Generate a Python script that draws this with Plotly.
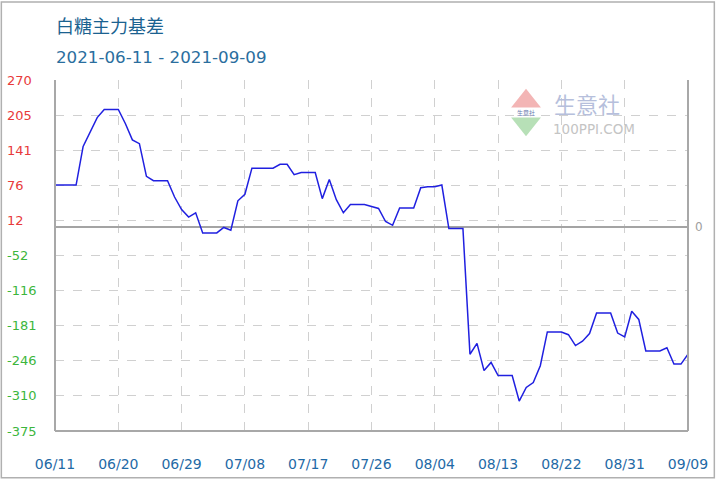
import plotly.graph_objects as go

# ---------------- data ----------------
dates = ["2021-06-11", "2021-06-14", "2021-06-15", "2021-06-16", "2021-06-17", "2021-06-18",
         "2021-06-20", "2021-06-21", "2021-06-22", "2021-06-23", "2021-06-24", "2021-06-25",
         "2021-06-27", "2021-06-28", "2021-06-29", "2021-06-30", "2021-07-01", "2021-07-02",
         "2021-07-04", "2021-07-05", "2021-07-06", "2021-07-07", "2021-07-08", "2021-07-09",
         "2021-07-12", "2021-07-13", "2021-07-14", "2021-07-15", "2021-07-16",
         "2021-07-18", "2021-07-19", "2021-07-20", "2021-07-21", "2021-07-22", "2021-07-23",
         "2021-07-25", "2021-07-26", "2021-07-27", "2021-07-28", "2021-07-29", "2021-07-30",
         "2021-08-01", "2021-08-02", "2021-08-03", "2021-08-04", "2021-08-05", "2021-08-06",
         "2021-08-08", "2021-08-09", "2021-08-10", "2021-08-11", "2021-08-12", "2021-08-13",
         "2021-08-15", "2021-08-16", "2021-08-17", "2021-08-18", "2021-08-19", "2021-08-20",
         "2021-08-22", "2021-08-23", "2021-08-24", "2021-08-25", "2021-08-26", "2021-08-27",
         "2021-08-29", "2021-08-30", "2021-08-31", "2021-09-01", "2021-09-02", "2021-09-03",
         "2021-09-05", "2021-09-06", "2021-09-07", "2021-09-08", "2021-09-09"]
basis = [77, 77, 148, 176, 201, 216,
         216, 190, 160, 153, 93, 85,
         85, 55, 32, 18, 26, -11,
         -11, -1, -6, 48, 60, 108,
         108, 115, 115, 96, 100,
         100, 52, 87, 50, 26, 41,
         41, 37, 34, 10, 3, 35,
         35, 72, 74, 74, 77, -3,
         -3, -234, -214, -264, -249, -273,
         -273, -320, -295, -286, -255, -193,
         -193, -198, -218, -210, -196, -158,
         -158, -195, -202, -155, -170, -228,
         -228, -222, -252, -252, -234]

x_tick_vals = ["2021-06-11", "2021-06-20", "2021-06-29", "2021-07-08", "2021-07-17", "2021-07-26",
               "2021-08-04", "2021-08-13", "2021-08-22", "2021-08-31", "2021-09-09"]
x_tick_text = ["06/11", "06/20", "06/29", "07/08", "07/17", "07/26",
               "08/04", "08/13", "08/22", "08/31", "09/09"]
y_tick_vals = [270, 205.5, 141, 76.5, 12, -52.5, -117, -181.5, -246, -310.5, -375]
y_tick_text = ["270", "205", "141", "76", "12", "-52", "-116", "-181", "-246", "-310", "-375"]

title_text = "白糖主力基差"
subtitle_text = "2021-06-11 - 2021-09-09"

# ---------------- layout geometry ----------------
W, H = 720, 484
L, R, T, B = 55, 28, 80, 48
PW, PH = W - L - R, H - T - B


def px(x):
    return (x - L) / PW


def py(y):
    return 1 - (y - T) / PH


FONT = "DejaVu Sans"

fig = go.Figure()
fig.add_trace(go.Scatter(
    x=dates, y=basis, mode="lines",
    line=dict(color="#2020e0", width=1.5),
    hoverinfo="x+y", showlegend=False,
))

shapes = []
# plot frame (left, right, bottom)
for (x0, y0, x1, y1) in [(0, 0, 0, 1), (1, 0, 1, 1), (0, 0, 1, 0)]:
    shapes.append(dict(type="line", xref="paper", yref="paper", x0=x0, y0=y0, x1=x1, y1=y1,
                       line=dict(color="#a8a8a8", width=2), layer="above"))
# outer image border
shapes.append(dict(type="rect", xref="paper", yref="paper",
                   x0=px(1), y0=py(483.5), x1=px(718.5), y1=py(1),
                   line=dict(color="#b0b0b0", width=1.5), layer="above"))
# watermark logo triangles
shapes.append(dict(type="path", xref="paper", yref="paper",
                   path=f"M {px(514)},{py(108)} L {px(529)},{py(89)} L {px(544)},{py(108)} Z",
                   fillcolor="#f3b5b5", line=dict(width=0), layer="below"))
shapes.append(dict(type="path", xref="paper", yref="paper",
                   path=f"M {px(514)},{py(118)} L {px(529)},{py(137)} L {px(544)},{py(118)} Z",
                   fillcolor="#b7e0b7", line=dict(width=0), layer="below"))

annotations = []
annotations.append(dict(text=title_text, xref="paper", yref="paper", x=px(54), y=py(24),
                        xanchor="left", yanchor="middle", showarrow=False,
                        font=dict(family="Noto Sans CJK SC", size=18, color="#1b6290")))
annotations.append(dict(text=subtitle_text, xref="paper", yref="paper", x=px(54), y=py(57),
                        xanchor="left", yanchor="middle", showarrow=False,
                        font=dict(family=FONT, size=16.7, color="#2a6e9e")))
for v, t in zip(y_tick_vals, y_tick_text):
    annotations.append(dict(text=t, xref="paper", yref="y", x=px(5), y=v,
                            xanchor="left", yanchor="middle", showarrow=False,
                            font=dict(family=FONT, size=13,
                                      color="#3cb63c" if t.startswith("-") else "#e83a3a")))
annotations.append(dict(text="0", xref="paper", yref="y", x=px(697), y=0,
                        xanchor="left", yanchor="middle", showarrow=False,
                        font=dict(family=FONT, size=12, color="#a0a0a0")))
# watermark text
annotations.append(dict(text="生意社", xref="paper", yref="paper", x=px(555), y=py(103),
                        xanchor="left", yanchor="middle", showarrow=False,
                        font=dict(family="Noto Sans CJK SC", size=22, color="#b6bfdc")))
annotations.append(dict(text="100PPI.COM", xref="paper", yref="paper", x=px(554), y=py(130),
                        xanchor="left", yanchor="middle", showarrow=False,
                        font=dict(family=FONT, size=13.5, color="#c4c4c4")))
annotations.append(dict(text="生意社", xref="paper", yref="paper", x=px(529), y=py(113),
                        xanchor="center", yanchor="middle", showarrow=False,
                        font=dict(family="Noto Sans CJK SC", size=6, color="#6a7ab0")))

fig.update_layout(
    width=W, height=H, autosize=False,
    margin=dict(l=L, r=R, t=T, b=B, pad=0),
    paper_bgcolor="white", plot_bgcolor="white",
    shapes=shapes, annotations=annotations,
    hovermode="closest",
    xaxis=dict(
        type="date", range=["2021-06-11", "2021-09-09"],
        tickvals=x_tick_vals, ticktext=x_tick_text,
        showgrid=True, gridcolor="#d0d0d0", griddash="dash", gridwidth=1,
        ticks="outside", ticklen=20, tickcolor="rgba(0,0,0,0)",
        tickfont=dict(family=FONT, size=14, color="#1f6aa6"),
        showline=False, zeroline=False, fixedrange=True,
    ),
    yaxis=dict(
        range=[-375, 270], tickvals=y_tick_vals, ticktext=y_tick_text,
        showticklabels=False,
        showgrid=True, gridcolor="#d0d0d0", griddash="dash", gridwidth=1,
        zeroline=True, zerolinecolor="#a4a4a4", zerolinewidth=2,
        showline=False, fixedrange=True,
    ),
)

fig.write_html(
    "out.html",
    config={"displayModeBar": False},
    post_script="document.body.style.margin='0';document.body.style.padding='0';"
                "document.body.style.overflow='hidden';",
)
